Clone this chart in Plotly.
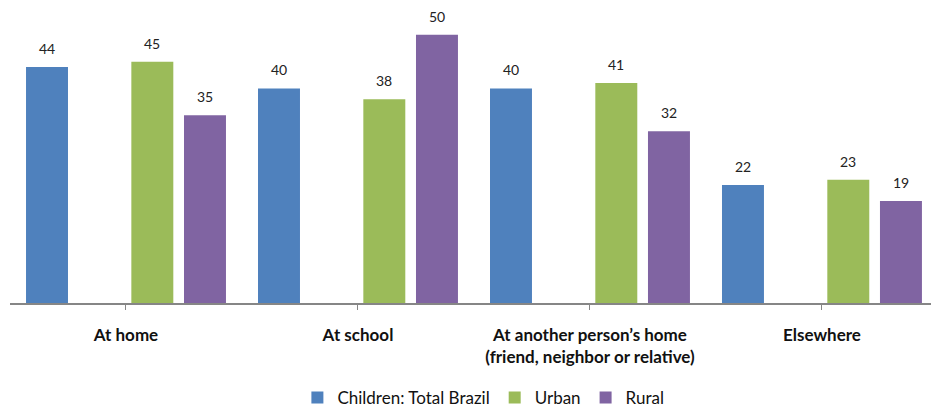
import plotly.graph_objects as go

categories = ["At home", "At school",
              "At another person’s home<br>(friend, neighbor or relative)",
              "Elsewhere"]
total_brazil = [44, 40, 40, 22]
urban = [45, 38, 41, 23]
rural = [35, 50, 32, 19]

series_names = ["Children: Total Brazil", None, "Urban", "Rural"]
series_values = [total_brazil, None, urban, rural]
series_colors = ["#4F81BD", None, "#9BBB59", "#8064A2"]

BARGAP = 0.092
BARGROUPGAP = 0.203
FONT = "Lato, 'Open Sans', sans-serif"

fig = go.Figure()
x_idx = list(range(len(categories)))
for name, vals, col in zip(series_names, series_values, series_colors):
    if vals is None:
        # reserved (empty) slot in each group
        fig.add_trace(go.Bar(x=x_idx, y=[None] * len(x_idx), showlegend=False,
                             hoverinfo="skip"))
    else:
        fig.add_trace(go.Bar(x=x_idx, y=vals, name=name, marker_color=col,
                             marker_line_width=0))

# value labels above each bar
n_slots = len(series_names)
slot = (1 - BARGAP) / n_slots
for s, vals in enumerate(series_values):
    if vals is None:
        continue
    for i, v in enumerate(vals):
        xc = i - (1 - BARGAP) / 2 + (s + 0.5) * slot
        fig.add_annotation(x=xc, y=v, xref="x", yref="y", text=str(v),
                           showarrow=False, yanchor="bottom", yshift=8,
                           font=dict(family=FONT, size=14, color="#222"))

fig.update_layout(
    width=931, height=409,
    margin=dict(l=10, r=0, t=8, b=106, autoexpand=False),
    barmode="group", bargap=BARGAP, bargroupgap=BARGROUPGAP,
    plot_bgcolor="white", paper_bgcolor="white",
    font=dict(family=FONT, size=17, color="#111"),
    legend=dict(orientation="h", x=0.514, xanchor="center",
                yref="container", y=0.027, yanchor="middle",
                font=dict(family=FONT, size=17, color="#111"),
                traceorder="normal", itemwidth=30),
    xaxis=dict(
        tickmode="array", tickvals=x_idx, ticktext=categories,
        range=[-0.5, 3.47], tickson="boundaries", ticks="outside",
        ticklen=5, tickcolor="#868686", tickwidth=1,
        showline=True, linecolor="#868686", linewidth=1.5,
        showgrid=False, zeroline=False, automargin=False,
        tickfont=dict(family=FONT, size=17, color="#111", weight="bold"),
        ticklabelstandoff=11,
    ),
    yaxis=dict(range=[0, 55], visible=False, showgrid=False),
)

fig.write_html("out.html")
